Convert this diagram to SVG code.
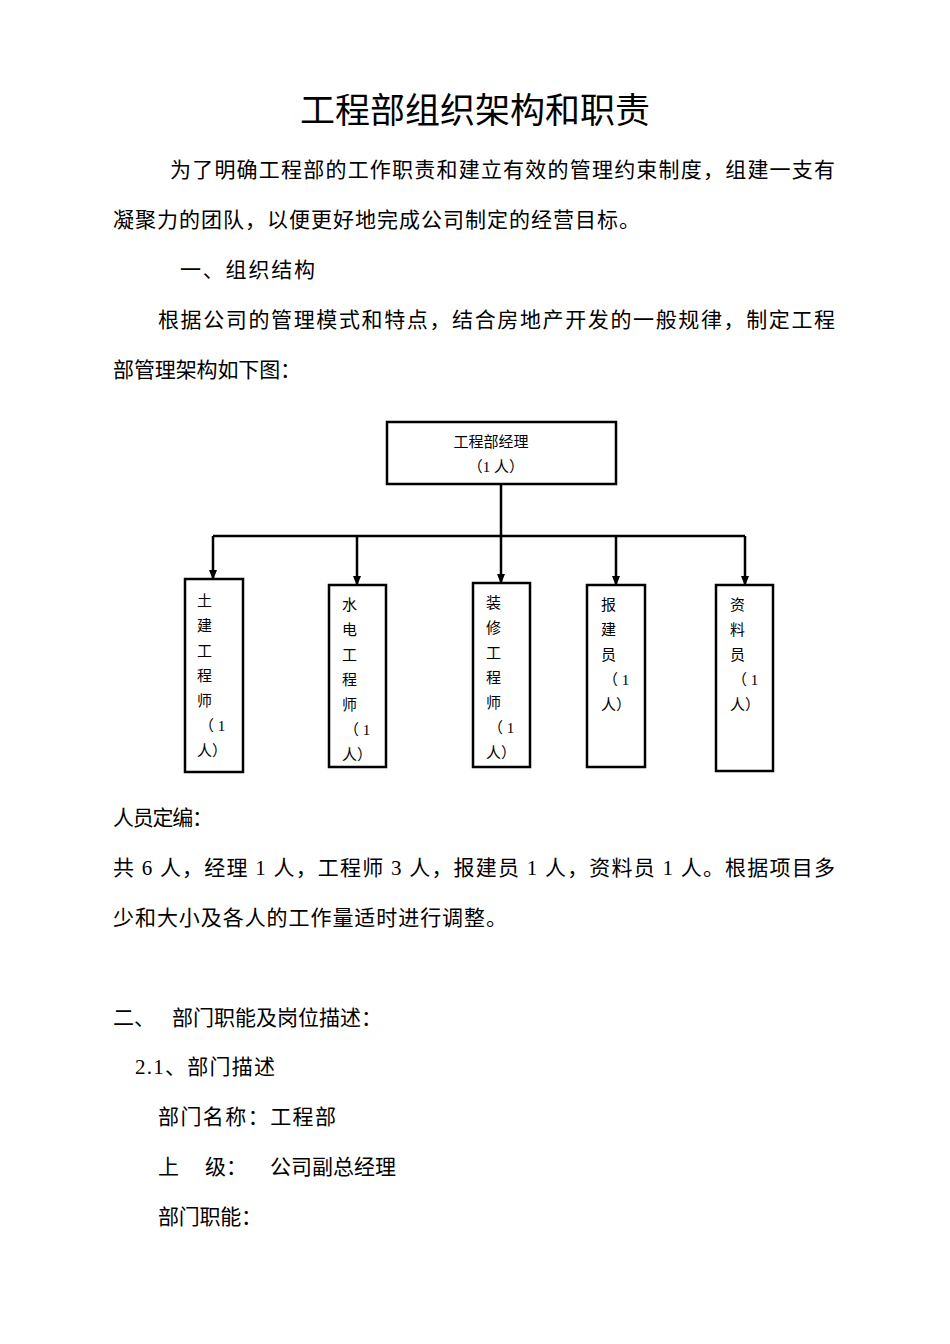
<svg xmlns="http://www.w3.org/2000/svg" width="950" height="1344" viewBox="0 0 950 1344">
<style>
.b{font-family:"Liberation Serif","Noto Sans CJK SC",serif;font-size:21px;fill:#000}
.s{font-family:"Liberation Serif","Noto Sans CJK SC",serif;font-size:15px;fill:#000}
.t{font-family:"Noto Sans CJK SC",sans-serif;font-size:35px;fill:#000}
.box{fill:#fff;stroke:#000;stroke-width:2.5}
.ln{fill:none;stroke:#000;stroke-width:2.5}
</style>
<rect width="950" height="1344" fill="#fff"/>
<text class="t" x="475" y="123" text-anchor="middle" textLength="350" lengthAdjust="spacing">工程部组织架构和职责</text>
<text class="b" x="170" y="177" textLength="665" lengthAdjust="spacing">为了明确工程部的工作职责和建立有效的管理约束制度，组建一支有</text>
<text class="b" x="113" y="227" textLength="527" lengthAdjust="spacing">凝聚力的团队，以便更好地完成公司制定的经营目标。</text>
<text class="b" x="180" y="277" textLength="135" lengthAdjust="spacing">一、组织结构</text>
<text class="b" x="158" y="327" textLength="677" lengthAdjust="spacing">根据公司的管理模式和特点，结合房地产开发的一般规律，制定工程</text>
<text class="b" x="113" y="377" textLength="188" lengthAdjust="spacing">部管理架构如下图：</text>
<g id="connectors">
<path class="ln" d="M501,484 V536 M213,536 H745"/>
<path class="ln" d="M213,536 V579 M357,536 V585 M501,536 V583 M616,536 V585 M745,536 V585" stroke-width="2"/>
<path d="M209,570 L217,570 L213,580 Z M353,576 L361,576 L357,586 Z M497,574 L505,574 L501,584 Z M612,576 L620,576 L616,586 Z M741,576 L749,576 L745,586 Z" fill="#000"/>
</g>
<g id="n0"><rect class="box" x="387" y="422" width="229" height="62"/>
<text class="s" x="491" y="447" text-anchor="middle">工程部经理</text><text class="s" x="496" y="472" text-anchor="middle">（1 人）</text></g>
<g id="n1"><rect class="box" x="185" y="579" width="58" height="193"/>
<text class="s" x="197" y="606">土</text><text class="s" x="197" y="631">建</text><text class="s" x="197" y="656">工</text><text class="s" x="197" y="681">程</text><text class="s" x="197" y="706">师</text><text class="s" x="199" y="731">（ 1</text><text class="s" x="197" y="756">人）</text></g>
<g id="n2"><rect class="box" x="329" y="585" width="57" height="182"/>
<text class="s" x="342" y="610">水</text><text class="s" x="342" y="635">电</text><text class="s" x="342" y="660">工</text><text class="s" x="342" y="685">程</text><text class="s" x="342" y="710">师</text><text class="s" x="344" y="735">（ 1</text><text class="s" x="342" y="760">人）</text></g>
<g id="n3"><rect class="box" x="473" y="583" width="57" height="184"/>
<text class="s" x="486" y="608">装</text><text class="s" x="486" y="633">修</text><text class="s" x="486" y="658">工</text><text class="s" x="486" y="683">程</text><text class="s" x="486" y="708">师</text><text class="s" x="488" y="733">（ 1</text><text class="s" x="486" y="758">人）</text></g>
<g id="n4"><rect class="box" x="587" y="585" width="58" height="182"/>
<text class="s" x="601" y="610">报</text><text class="s" x="601" y="635">建</text><text class="s" x="601" y="660">员</text><text class="s" x="603" y="685">（ 1</text><text class="s" x="601" y="710">人）</text></g>
<g id="n5"><rect class="box" x="716" y="585" width="57" height="186"/>
<text class="s" x="730" y="610">资</text><text class="s" x="730" y="635">料</text><text class="s" x="730" y="660">员</text><text class="s" x="732" y="685">（ 1</text><text class="s" x="730" y="710">人）</text></g>
<text class="b" x="113" y="825" textLength="100" lengthAdjust="spacing">人员定编：</text>
<text class="b" x="113" y="875" textLength="722" lengthAdjust="spacing">共 6 人，经理 1 人，工程师 3 人，报建员 1 人，资料员 1 人。根据项目多</text>
<text class="b" x="113" y="925" textLength="394" lengthAdjust="spacing">少和大小及各人的工作量适时进行调整。</text>
<text class="b" x="113" y="1025">二、</text><text class="b" x="172" y="1025" textLength="210" lengthAdjust="spacing">部门职能及岗位描述：</text>
<text class="b" x="135" y="1074" textLength="140" lengthAdjust="spacing">2.1、部门描述</text>
<text class="b" x="158" y="1124" textLength="178" lengthAdjust="spacing">部门名称：工程部</text>
<text class="b" x="158" y="1174">上</text><text class="b" x="205" y="1174">级：</text><text class="b" x="270" y="1174">公司副总经理</text>
<text class="b" x="158" y="1224" textLength="104" lengthAdjust="spacing">部门职能：</text>
</svg>
